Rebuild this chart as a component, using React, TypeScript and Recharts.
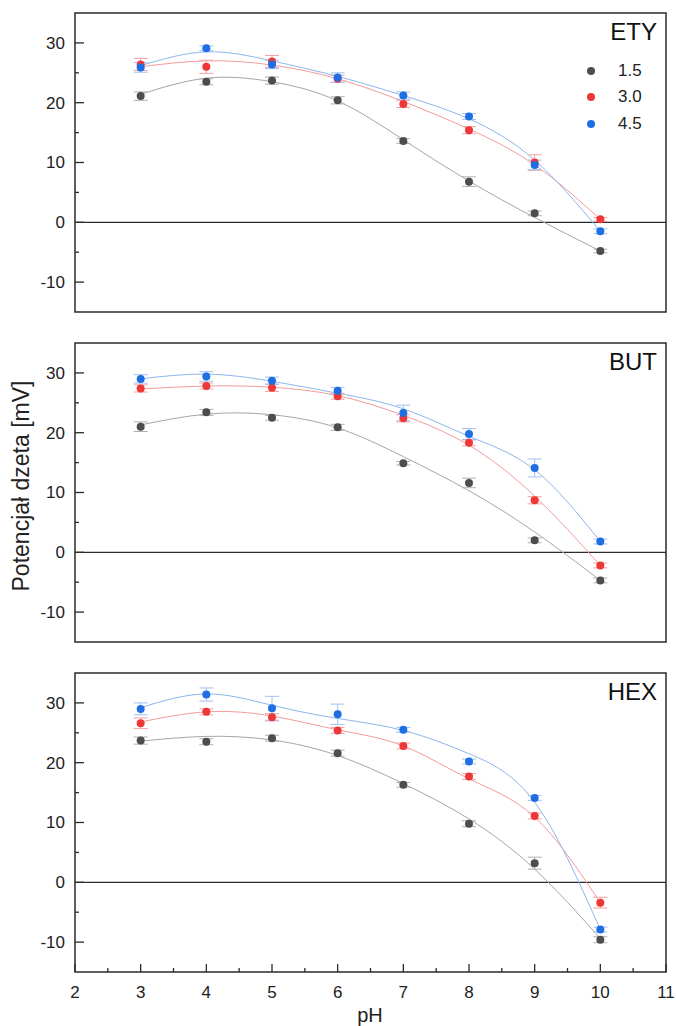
import {
  ComposedChart, Line, Scatter, XAxis, YAxis, ErrorBar, ReferenceLine, ReferenceArea,
} from 'recharts';

const PH = [3, 4, 5, 6, 7, 8, 9, 10];
const X_TICKS = [2, 2.5, 3, 3.5, 4, 4.5, 5, 5.5, 6, 6.5, 7, 7.5, 8, 8.5, 9, 9.5, 10, 10.5, 11];
const Y_TICKS = [-10, -5, 0, 5, 10, 15, 20, 25, 30];
const CONC = ['1.5', '3.0', '4.5'];

// ETY
const etyPts15 = [21.1, 23.5, 23.7, 20.4, 13.6, 6.8, 1.5, -4.8];
const etyPts30 = [26.4, 26.0, 26.9, 24.0, 19.8, 15.4, 10.0, 0.5];
const etyPts45 = [25.9, 29.1, 26.4, 24.2, 21.2, 17.7, 9.6, -1.5];
const etyErr15 = [0.7, 0.5, 0.6, 0.6, 0.4, 0.8, 0.4, 0.3];
const etyErr30 = [1.0, 1.1, 1.0, 0.6, 0.6, 0.6, 1.3, 0.3];
const etyErr45 = [0.8, 0.4, 0.7, 0.8, 0.6, 0.5, 0.8, 0.4];
const etyFit15 = [21.4, 24.1, 23.5, 20.3, 13.8, 6.9, 0.8, -4.8];
const etyFit30 = [26.0, 27.0, 26.3, 24.0, 20.2, 15.6, 9.6, 0.5];
const etyFit45 = [26.2, 28.5, 27.0, 24.4, 21.2, 17.3, 10.4, -1.5];

// BUT
const butPts15 = [21.0, 23.4, 22.5, 20.9, 14.9, 11.6, 2.0, -4.7];
const butPts30 = [27.4, 27.8, 27.5, 26.1, 22.4, 18.3, 8.7, -2.2];
const butPts45 = [29.0, 29.4, 28.7, 27.0, 23.3, 19.8, 14.1, 1.8];
const butErr15 = [0.8, 0.5, 0.4, 0.5, 0.3, 0.8, 0.4, 0.4];
const butErr30 = [0.6, 0.5, 0.6, 0.5, 0.6, 0.5, 0.6, 0.4];
const butErr45 = [0.7, 0.8, 0.6, 0.6, 1.3, 0.9, 1.5, 0.4];
const butFit15 = [21.3, 23.1, 23.0, 20.8, 16.0, 10.3, 3.4, -4.7];
const butFit30 = [27.3, 27.8, 27.6, 26.2, 22.9, 17.9, 9.4, -2.2];
const butFit45 = [29.0, 29.8, 28.6, 26.6, 24.0, 19.4, 13.8, 1.8];

// HEX
const hexPts15 = [23.7, 23.5, 24.1, 21.6, 16.3, 9.8, 3.2, -9.6];
const hexPts30 = [26.6, 28.5, 27.6, 25.4, 22.8, 17.7, 11.1, -3.4];
const hexPts45 = [29.0, 31.4, 29.1, 28.1, 25.5, 20.2, 14.1, -7.9];
const hexErr15 = [0.6, 0.5, 0.5, 0.5, 0.4, 0.5, 1.0, 0.5];
const hexErr30 = [0.9, 0.5, 0.6, 0.5, 0.5, 0.5, 0.5, 0.9];
const hexErr45 = [1.0, 1.1, 2.0, 1.7, 0.4, 0.4, 0.4, 0.4];
const hexFit15 = [23.6, 24.4, 23.8, 21.2, 16.5, 10.6, 2.2, -9.4];
const hexFit30 = [26.8, 28.5, 27.8, 25.5, 22.8, 17.3, 10.9, -3.4];
const hexFit45 = [29.2, 31.5, 29.6, 27.4, 25.4, 21.5, 13.4, -7.9];

const DOT = ['#4d4d4d', '#ee3838', '#1f6fe3'];
const FIT = ['#a6a6a6', '#f59b9b', '#8db6ee'];
const ERR = ['#b0b0b0', '#f4a3a3', '#9fc1f0'];
const AXIS = '#2b2b2b';
const FONT = '"Liberation Sans", Arial, sans-serif';

const toPts = (vals: number[], errs: number[]) => PH.map((ph, i) => ({ ph, v: vals[i], err: errs[i] }));
const toFit = (vals: number[]) => PH.map((ph, i) => ({ ph, v: vals[i] }));

// inward tick marks (major longer than minor), optional label under major ones
function XTick(props: any) {
  const x = Number(props.x);
  const y = Number(props.y);
  const v = Number(props.payload.value);
  const major = Number.isInteger(v);
  const withLabel = props.withLabel === true;
  return (
    <g>
      <line x1={x} x2={x} y1={y} y2={y - (major ? 8 : 4)} stroke={AXIS} strokeWidth={1.3} />
      {withLabel && major ? (
        <text x={x} y={y + 25.5} textAnchor="middle" fontSize={17} fill="#222" fontFamily={FONT}>
          {String(v)}
        </text>
      ) : null}
    </g>
  );
}

function YTick(props: any) {
  const x = Number(props.x);
  const y = Number(props.y);
  const v = Number(props.payload.value);
  const major = v % 10 === 0;
  return (
    <g>
      <line x1={x} x2={x + (major ? 9 : 4)} y1={y} y2={y} stroke={AXIS} strokeWidth={1.3} />
      {major ? (
        <text x={x - 10} y={y} dy="0.35em" textAnchor="end" fontSize={17} fill="#222" fontFamily={FONT}>
          {String(v)}
        </text>
      ) : null}
    </g>
  );
}

interface PanelProps {
  top: number;
  height: number;
  label: string;
  pts: number[][];
  errs: number[][];
  fits: number[][];
  showXLabels?: boolean;
  showLegend?: boolean;
}

function Panel({ top, height, label, pts, errs, fits, showXLabels, showLegend }: PanelProps) {
  const plotH = 299;
  const axisH = showXLabels ? 40 : 0;
  return (
    <div style={{ position: 'absolute', left: 0, top, width: 676, height }}>
      <ComposedChart width={676} height={height} margin={{ top: 13, right: 10, left: 0, bottom: height - 13 - plotH - axisH }}>
        <XAxis
          type="number" dataKey="ph" domain={[2, 11]} ticks={X_TICKS} allowDataOverflow
          axisLine={false} tickLine={false} tickSize={0} tickMargin={0} height={axisH} interval={0}
          tick={<XTick withLabel={!!showXLabels} />}
        />
        <YAxis
          type="number" dataKey="v" domain={[-15, 35]} ticks={Y_TICKS} allowDataOverflow
          axisLine={false} tickLine={false} tickSize={0} tickMargin={0} width={75} interval={0}
          tick={<YTick />}
        />
        <ReferenceLine y={0} stroke={AXIS} strokeWidth={1.3} />
        {fits.map((f, i) => (
          <Line
            key={'f' + i} data={toFit(f)} dataKey="v" type="natural" stroke={FIT[i]}
            strokeWidth={1} dot={false} isAnimationActive={false}
          />
        ))}
        {pts.map((p, i) => (
          <Scatter
            key={'s' + i} data={toPts(p, errs[i])} dataKey="v" fill={DOT[i]} isAnimationActive={false}
            shape={(s: any) => <circle cx={s.cx} cy={s.cy} r={4} fill={DOT[i]} />}
          >
            <ErrorBar dataKey="err" direction="y" width={7} stroke={ERR[i]} strokeWidth={1} />
          </Scatter>
        ))}
        <ReferenceArea x1={2} x2={11} y1={-15} y2={35} fill="none" stroke={AXIS} strokeWidth={1.5} fillOpacity={0} />
      </ComposedChart>
      <div style={{ position: 'absolute', right: 676 - 657, top: 17, fontSize: 24, lineHeight: '30px', color: '#111', fontFamily: FONT }}>
        {label}
      </div>
      {showLegend && CONC.map((c, i) => (
        <div key={c} style={{ position: 'absolute', left: 585, top: 60 + i * 26.3, height: 22, display: 'flex', alignItems: 'center', fontFamily: FONT, fontSize: 17, color: '#222' }}>
          <span style={{ width: 8, height: 8, borderRadius: 4, background: DOT[i], display: 'inline-block', marginLeft: 2 }} />
          <span style={{ marginLeft: 23 }}>{c}</span>
        </div>
      ))}
    </div>
  );
}

export default function App() {
  return (
    <div style={{ position: 'absolute', left: 0, top: 0, width: 676, height: 1026, background: '#fff', fontFamily: FONT }}>
      <Panel top={0} height={330} label="ETY" showLegend
        pts={[etyPts15, etyPts30, etyPts45]} errs={[etyErr15, etyErr30, etyErr45]} fits={[etyFit15, etyFit30, etyFit45]} />
      <Panel top={330} height={330} label="BUT"
        pts={[butPts15, butPts30, butPts45]} errs={[butErr15, butErr30, butErr45]} fits={[butFit15, butFit30, butFit45]} />
      <Panel top={660} height={366} label="HEX" showXLabels
        pts={[hexPts15, hexPts30, hexPts45]} errs={[hexErr15, hexErr30, hexErr45]} fits={[hexFit15, hexFit30, hexFit45]} />
      <div style={{ position: 'absolute', left: 0, top: 485.5, width: 0, height: 0 }}>
        <div style={{ position: 'absolute', left: 0, top: 0, transform: 'translate(31.5px, 0) rotate(-90deg)', transformOrigin: '0 0' }}>
          <div style={{ position: 'absolute', transform: 'translate(-50%, -100%)', whiteSpace: 'nowrap', fontSize: 23, color: '#222', lineHeight: '22px' }}>
            Potencjał dzeta [mV]
          </div>
        </div>
      </div>
      <div style={{ position: 'absolute', left: 370, top: 1004, transform: 'translateX(-50%)', fontSize: 20, color: '#222', lineHeight: '22px' }}>
        pH
      </div>
    </div>
  );
}
